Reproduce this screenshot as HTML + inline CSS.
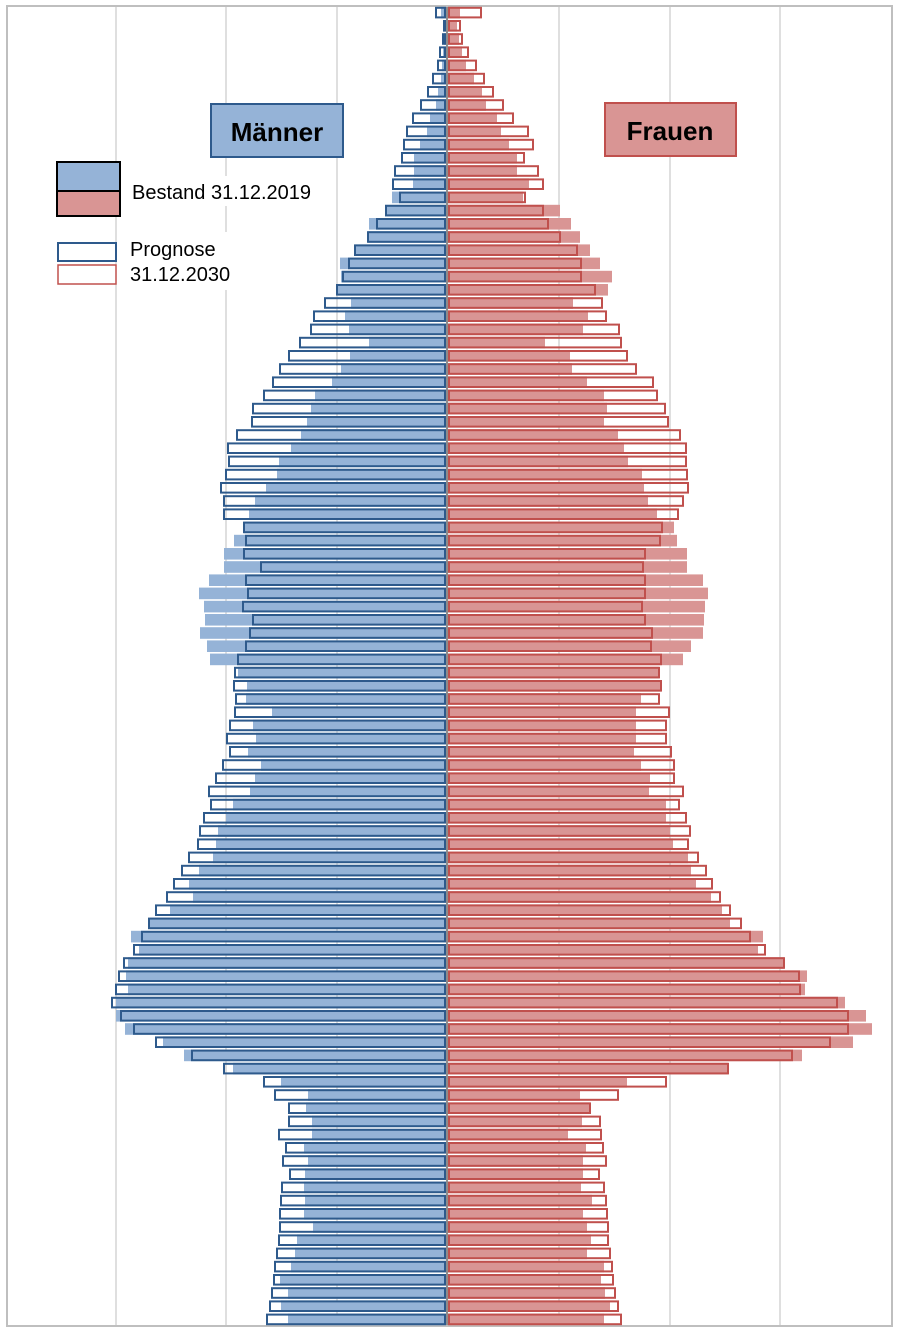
<!DOCTYPE html>
<html><head><meta charset="utf-8">
<style>
html,body{margin:0;padding:0;background:#fff;}
svg{display:block;font-family:"Liberation Sans",Arial,sans-serif;}
</style></head>
<body>
<svg id="chart" width="900" height="1334" viewBox="0 0 900 1334">
  <rect x="7" y="6" width="885" height="1320" fill="#fff" stroke="#bfbfbf" stroke-width="2"/>
  <g id="grid"></g>
  <g id="bars"></g>
  <g id="legend">
    <rect x="211" y="104" width="132" height="53" fill="#95b3d7" stroke="#2e5a8c" stroke-width="2"/>
    <text x="277" y="141" text-anchor="middle" font-size="26" font-weight="bold" fill="#000">Männer</text>
    <rect x="605" y="103" width="131" height="53" fill="#d99594" stroke="#c0504d" stroke-width="2"/>
    <text x="670" y="140" text-anchor="middle" font-size="26" font-weight="bold" fill="#000">Frauen</text>
    <rect x="57" y="162" width="63" height="29" fill="#95b3d7" stroke="#000" stroke-width="2"/>
    <rect x="57" y="191" width="63" height="25" fill="#d99594" stroke="#000" stroke-width="2"/>
    <rect x="128" y="176" width="208" height="30" fill="#fff"/>
    <text x="132" y="199" font-size="20" fill="#000">Bestand 31.12.2019</text>
    <rect x="58" y="243" width="58" height="18" fill="#fff" stroke="#2e5a8c" stroke-width="2"/>
    <rect x="58" y="265" width="58" height="19" fill="#fff" stroke="#c0504d" stroke-width="1.5"/>
    <rect x="126" y="232" width="120" height="58" fill="#fff"/>
    <text x="130" y="256" font-size="20" fill="#000">Prognose</text>
    <text x="130" y="281" font-size="20" fill="#000">31.12.2030</text>
  </g>
</svg>
<script>
// ages from 99 (top) down to 0 (bottom)
const ages = Array.from({length:100},(_,i)=>99-i);
const maleBestand = [5,3,2,3,4,5,8,10,16,19,26,32,32,33,54,61,77,78,91,106,105,109,95,101,97,77,96,105,114,131,135,139,145,155,167,169,180,191,197,202,212,222,222,237,247,242,241,246,239,236,208,199,200,174,193,190,198,185,191,196,213,220,228,230,233,247,257,253,276,296,315,307,318,320,318,330,330,321,283,262,213,165,138,140,134,134,142,138,141,142,141,142,133,149,151,155,166,158,165,158];
const malePrognose = [10,2,3,6,8,13,18,25,33,39,42,44,51,53,46,60,69,78,91,97,103,109,121,132,135,146,157,166,173,182,193,194,209,218,217,220,225,222,222,202,200,202,185,200,198,203,193,196,200,208,211,212,210,211,216,219,216,223,230,237,235,242,246,248,257,264,272,279,290,297,304,312,322,327,330,334,325,312,290,254,222,182,171,157,157,167,160,163,156,164,165,166,166,167,169,171,172,174,176,179];
const femaleBestand = [12,9,11,14,18,26,34,38,49,53,61,69,69,81,75,112,123,132,142,152,164,160,125,140,135,97,122,124,139,156,159,156,170,176,180,194,196,200,209,226,229,239,239,255,260,257,256,255,243,235,211,213,193,188,188,188,186,193,202,201,218,218,222,225,240,243,248,263,274,282,315,310,336,359,357,397,418,424,405,354,280,179,132,142,134,120,138,135,135,133,144,135,139,143,139,156,153,157,162,156];
const femalePrognose = [33,12,14,20,28,36,45,55,65,80,85,76,90,95,77,95,100,112,129,133,133,147,154,158,171,173,179,188,205,209,217,220,232,238,238,239,240,235,230,214,212,197,195,197,197,194,197,204,203,213,211,213,211,221,218,218,223,226,226,235,231,238,242,240,250,258,264,272,282,293,302,317,336,351,352,389,400,400,382,344,280,218,170,142,152,153,155,158,151,156,158,159,160,160,162,164,165,167,170,173];
const gridTicks = [110,221,331];

const CX = 447, TOP = 6, ROWH = 13.2, PXU = 1.0;
const xMale = v => CX - 1 - v*PXU;
const xFemale = v => CX + 1 + v*PXU;
const yRow = i => TOP + i*ROWH;
const NS = 'http://www.w3.org/2000/svg';
const grid = document.getElementById('grid');
const bars = document.getElementById('bars');
function mk(tag, attrs, parent){const e=document.createElementNS(NS,tag);for(const k in attrs)e.setAttribute(k,attrs[k]);parent.appendChild(e);return e;}

gridTicks.forEach(t=>{
  [CX - t*PXU, CX + 2 + t*PXU].forEach(x=>{
    const l = mk('line',{x1:x,x2:x,y1:7,y2:1325,stroke:'#bfbfbf','stroke-width':1},grid);
    
    
  });
});

ages.forEach((age,i)=>{
  const y = yRow(i)+0.8, h = ROWH-1.6;
  const m = mk('rect',{x:xMale(maleBestand[i]),y:y,width:maleBestand[i]*PXU,height:h,fill:'#95b3d7'},bars);
  
  
  const f = mk('rect',{x:CX+1,y:y,width:femaleBestand[i]*PXU,height:h,fill:'#d99594'},bars);
  
  
});
ages.forEach((age,i)=>{
  const y = yRow(i)+1.8, h = ROWH-3.6;
  const mo = mk('rect',{x:xMale(malePrognose[i]),y:y,width:Math.max(malePrognose[i]*PXU-1,0.5),height:h,fill:'none',stroke:'#2e5a8c','stroke-width':2},bars);
  
  
  const fo = mk('rect',{x:CX+2,y:y,width:Math.max(femalePrognose[i]*PXU-1,0.5),height:h,fill:'none',stroke:'#c0504d','stroke-width':2},bars);
  
  
});
const ax = mk('line',{x1:CX,x2:CX,y1:7,y2:1325,stroke:'#8c8c8c','stroke-width':2},bars);


</script>
</body></html>
